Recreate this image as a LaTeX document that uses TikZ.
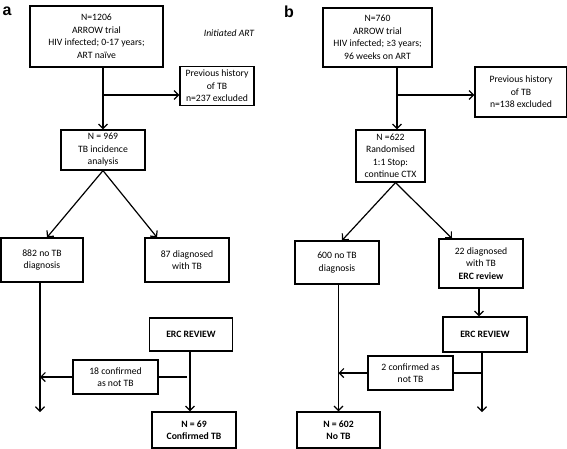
\documentclass[tikz,border=0pt]{standalone}
\usepackage{fontspec}
\setmainfont{Carlito}
\newfontfamily\panelfont{Liberation Sans}
\usetikzlibrary{arrows.meta}
\begin{document}
\begin{tikzpicture}[x=1pt, y=-1pt,
	box/.style={draw, line width=1.2pt, align=center, inner sep=0pt, font=\fontsize{9.7}{12.5}\selectfont},
	ln/.style={line width=1.2pt},
	arr/.style={ln, -{Straight Barb[length=4.5pt, width=9pt]}},
	panel/.style={font=\panelfont\bfseries\fontsize{16}{16}\selectfont, inner sep=0pt}]
	
	\useasboundingbox (0,0) rectangle (567,448);
	
	% panel a
	\node[panel] (labA) at (7,11) {a};
	\node[box, minimum width=133pt, minimum height=61pt] (a1) at (96.5,36.5) {N=1206\\ARROW trial\\HIV infected; 0-17 years;\\ART naïve};
	\node[font=\fontsize{9.7}{12.5}\selectfont\itshape] (init) at (229,33) {Initiated ART};
	\node[box, minimum width=74pt, minimum height=39pt] (prevA) at (217,86) {Previous history\\of TB\\n=237 excluded};
	\node[box, minimum width=84pt, minimum height=40pt] (n969) at (103,150) {N = 969\\TB incidence\\analysis};
	\node[box, minimum width=82pt, minimum height=44pt] (no882) at (42,260) {882 no TB\\diagnosis};
	\node[box, minimum width=84pt, minimum height=44pt] (dx87) at (187,260) {87 diagnosed\\with TB};
	\node[box, minimum width=83pt, minimum height=33pt] (erca) at (191,334.5) {\textbf{ERC REVIEW}};
	\node[box, minimum width=85pt, minimum height=34pt] (conf18) at (115.5,377) {18 confirmed\\as not TB};
	\node[box, minimum width=84pt, minimum height=36pt] (n69) at (194,430) {\textbf{N = 69}\\\textbf{Confirmed TB}};
	\coordinate (stemA) at (103,95);
	\coordinate (endA) at (40,412);
	
	\draw[ln] (a1.south -| stemA) -- (stemA);
	\draw[arr] (stemA) -- (n969.north);
	\draw[arr] (stemA) -- (prevA.west |- stemA);
	\draw[arr] (n969.south) -- ([xshift=5pt]no882.north);
	\draw[arr] (n969.south) -- ([xshift=-30pt]dx87.north);
	\draw[arr] ([xshift=-2pt]no882.south) -- (endA);
	\draw[arr] (erca.south -| n69.north) ++(-4pt,0) -- ([xshift=-4pt]n69.north);
	\draw[ln] ([xshift=-4pt]erca.south |- conf18.east) -- (conf18.east);
	\draw[arr] (conf18.west) -- (conf18.west -| endA);
	
	% panel b
	\node[panel] (labB) at (289,12) {b};
	\node[box, minimum width=109pt, minimum height=59pt] (b1) at (377.5,37.5) {N=760\\ARROW trial\\HIV infected; ≥3 years;\\96 weeks on ART};
	\node[box, minimum width=92pt, minimum height=50pt] (prevB) at (521,92) {Previous history\\of TB\\n=138 excluded};
	\node[box, minimum width=69pt, minimum height=52pt] (n622) at (390.5,156) {N =622\\Randomised\\1:1 Stop:\\continue CTX};
	\node[box, minimum width=84pt, minimum height=43pt] (no600) at (337,262.5) {600 no TB\\diagnosis};
	\node[box, minimum width=84pt, minimum height=49pt] (dx22) at (481,263.5) {22 diagnosed\\with TB\\\textbf{ERC review}};
	\node[box, minimum width=84pt, minimum height=35pt] (ercb) at (485,334.5) {\textbf{ERC REVIEW}};
	\node[box, minimum width=85pt, minimum height=34pt] (conf2) at (410.5,373) {2 confirmed as\\not TB};
	\node[box, minimum width=83pt, minimum height=36pt] (n602) at (338.5,430) {\textbf{N = 602}\\\textbf{No TB}};
	\coordinate (stemB) at (397,95);
	\coordinate (endB) at (482,412);
	
	\draw[ln] (b1.south -| stemB) -- (stemB);
	\draw[arr] (stemB) -- (n622.north -| stemB);
	\draw[arr] (stemB) -- (prevB.west |- stemB);
	\draw[arr] ([xshift=5pt]n622.south) -- ([xshift=5pt]no600.north);
	\draw[arr] ([xshift=5pt]n622.south) -- ([xshift=-29pt]dx22.north);
	\draw[arr] ([xshift=-2pt]dx22.south) -- ([xshift=-6pt]ercb.north);
	\draw[arr] (ercb.south -| endB) -- (endB);
	\draw[ln] (conf2.east -| endB) -- (conf2.east);
	\draw[arr] (conf2.west) -- (conf2.west -| n602.north);
	\draw[arr] (no600.south -| n602.north) -- (n602.north);
\end{tikzpicture}
\end{document}
